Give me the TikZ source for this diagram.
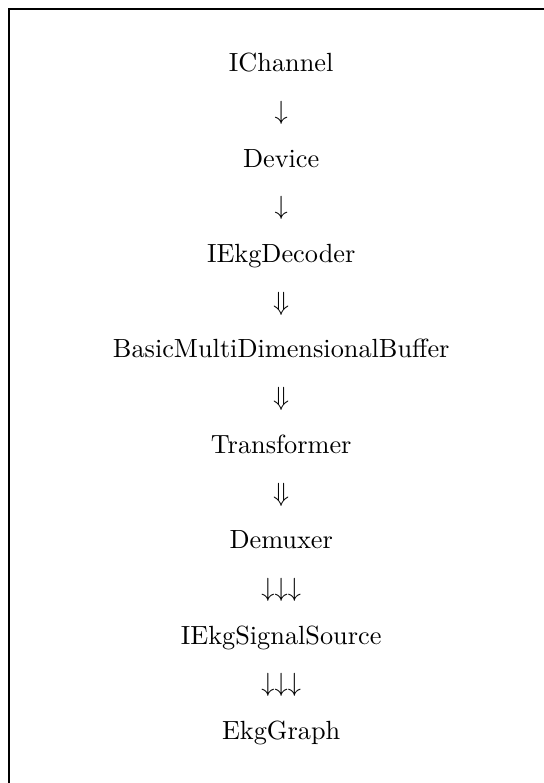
\documentclass[tikz,border=0pt]{standalone}
\usepackage{amsmath, amssymb}
\usepackage{tikz}

\tikzset{layer/.style={anchor=base, inner sep=0pt}}

\begin{document}
\begin{tikzpicture}
\useasboundingbox (0,0) rectangle (7.27,-10.47);
\draw[line width = .8pt] (0.12,-12) -- (0.12,-0.12) -- (9,-0.12);
\node[layer] (ichannel) at (3.76,-0.958) {IChannel};
\node[layer] (a1) at (3.76,-1.596) {$\downarrow$};
\node[layer] (device) at (3.76,-2.234) {Device};
\node[layer] (a2) at (3.76,-2.872) {$\downarrow$};
\node[layer] (decoder) at (3.76,-3.510) {IEkgDecoder};
\node[layer] (a3) at (3.76,-4.148) {$\Downarrow$};
\node[layer] (buffer) at (3.76,-4.786) {BasicMultiDimensionalBuffer};
\node[layer] (a4) at (3.76,-5.424) {$\Downarrow$};
\node[layer] (transformer) at (3.76,-6.062) {Transformer};
\node[layer] (a5) at (3.76,-6.700) {$\Downarrow$};
\node[layer] (demuxer) at (3.76,-7.338) {Demuxer};
\node[layer] (a6) at (3.76,-7.976) {$\downarrow\downarrow\downarrow$};
\node[layer] (source) at (3.76,-8.614) {IEkgSignalSource};
\node[layer] (a7) at (3.76,-9.252) {$\downarrow\downarrow\downarrow$};
\node[layer] (graph) at (3.76,-9.890) {EkgGraph};
\end{tikzpicture}
\end{document}
